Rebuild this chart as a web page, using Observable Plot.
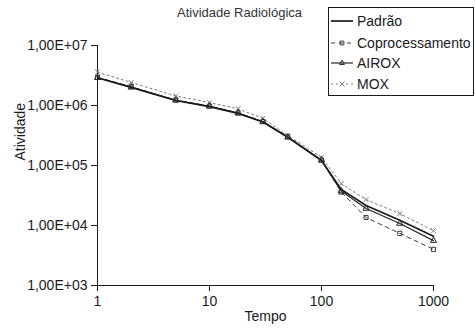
<!DOCTYPE html>
<html><head><meta charset="utf-8">
<script src="https://cdn.jsdelivr.net/npm/d3@7"></script>
<script src="https://cdn.jsdelivr.net/npm/@observablehq/plot@0.6"></script>
<style>
body{margin:0;background:#fff;}
#chart svg{font-family:"Liberation Sans",Arial,Helvetica,sans-serif;background:#fff;}
</style>
</head><body><div id="chart"></div>
<script>
// ---- data ----
const titulo = "Atividade Radiológica";
const tempo = [1, 2, 5, 10, 18, 30, 50, 100, 150, 250, 500, 1000];
const padrao          = [2.9e6, 2.0e6, 1.21e6, 9.6e5, 7.4e5, 5.3e5, 2.95e5, 1.21e5, 4.0e4, 2.15e4, 1.22e4, 6.6e3];
const coprocessamento = [2.95e6, 2.05e6, 1.23e6, 9.8e5, 7.5e5, 5.4e5, 3.0e5, 1.23e5, 3.6e4, 1.36e4, 7.4e3, 4.0e3];
const airox           = [2.9e6, 2.02e6, 1.22e6, 9.7e5, 7.45e5, 5.35e5, 2.97e5, 1.22e5, 3.75e4, 1.92e4, 1.08e4, 5.6e3];
const mox             = [3.6e6, 2.42e6, 1.44e6, 1.12e6, 8.8e5, 6.1e5, 3.16e5, 1.37e5, 5.0e4, 2.7e4, 1.58e4, 8.2e3];
const seriesNames = ["Padrão", "Coprocessamento", "AIROX", "MOX"];
const yTicks = [1e3, 1e4, 1e5, 1e6, 1e7];
const yTickLabels = ["1,00E+03", "1,00E+04", "1,00E+05", "1,00E+06", "1,00E+07"];
const xTicks = [1, 10, 100, 1000];
const xTickLabels = ["1", "10", "100", "1000"];
const xLabel = "Tempo";
const yLabel = "Atividade";

// ---- table ----
const seriesValues = [padrao, coprocessamento, airox, mox];
const table = [];
seriesNames.forEach((name, i) => tempo.forEach((t, j) => table.push({serie: name, tempo: t, valor: seriesValues[i][j]})));

const style = {
  "Padrão":          {stroke: "#1a1a1a", width: 1.7, dash: null,  symbol: null},
  "Coprocessamento": {stroke: "#3a3a3a", width: 1,   dash: "4,4", symbol: "square"},
  "AIROX":           {stroke: "#262626", width: 1.2, dash: null,  symbol: "triangle"},
  "MOX":             {stroke: "#7a7a7a", width: 1,   dash: "2,3", symbol: "times"}
};
const drawOrder = ["MOX", "Coprocessamento", "AIROX", "Padrão"];

const lineMarks = drawOrder.map(name => Plot.line(table.filter(d => d.serie === name), {
  x: "tempo", y: "valor", stroke: style[name].stroke, strokeWidth: style[name].width,
  strokeDasharray: style[name].dash
}));
const dotMarks = drawOrder.filter(n => style[n].symbol).map(name => Plot.dot(table.filter(d => d.serie === name), {
  x: "tempo", y: "valor", symbol: style[name].symbol, r: 2.3, stroke: style[name].stroke,
  strokeWidth: 1, fill: "none"
}));

const chart = Plot.plot({
  width: 475, height: 333,
  marginLeft: 97, marginRight: 42, marginTop: 45, marginBottom: 48,
  style: {fontSize: "14px", color: "#1a1a1a", overflow: "visible"},
  x: {type: "log", domain: [1, 1000]},
  y: {type: "log", domain: [1e3, 1e7]},
  marks: [
    Plot.ruleX([1], {y1: 1e3, y2: 1e7, stroke: "#1a1a1a", strokeWidth: 1}),
    Plot.ruleY([1e3], {x1: 1, x2: 1000, stroke: "#1a1a1a", strokeWidth: 1}),
    Plot.axisY({ticks: yTicks, tickFormat: d => yTickLabels[yTicks.indexOf(d)], tickSize: 6, tickPadding: 4, fontSize: 14, label: null, stroke: "#1a1a1a"}),
    Plot.axisX({ticks: xTicks, tickFormat: d => xTickLabels[xTicks.indexOf(d)], tickSize: 6, tickPadding: 5, fontSize: 14, label: null, stroke: "#1a1a1a"}),
    ...lineMarks,
    ...dotMarks,
    Plot.text([xLabel], {frameAnchor: "bottom", dy: 35, text: d => d, fontSize: 14, fill: "#1a1a1a"}),
    Plot.text([yLabel], {frameAnchor: "left", dx: -77, dy: -5, rotate: -90, text: d => d, fontSize: 14, fill: "#1a1a1a"}),
    Plot.text([titulo], {frameAnchor: "top", dx: -26, dy: -38, text: d => d, fontSize: 13, fill: "#333"})
  ]
});
document.getElementById("chart").appendChild(chart);

// ---- legend ----
const svg = d3.select(chart);
const lg = svg.append("g").attr("text-anchor", "start");
const lx = 328.5, ly = 7.5, lw = 145, lh = 88;
lg.append("rect").attr("x", lx).attr("y", ly).attr("width", lw).attr("height", lh)
  .attr("fill", "#fff").attr("stroke", "#1a1a1a").attr("stroke-width", 1);
const rowY = [21, 43, 63, 84];
seriesNames.forEach((name, i) => {
  const s = style[name];
  const y = rowY[i];
  lg.append("line").attr("x1", 331).attr("x2", 353).attr("y1", y).attr("y2", y)
    .attr("stroke", s.stroke).attr("stroke-width", s.width).attr("stroke-dasharray", s.dash);
  if (s.symbol) {
    const sym = d3.symbol(s.symbol === "square" ? d3.symbolSquare2 : s.symbol === "triangle" ? d3.symbolTriangle2 : d3.symbolTimes, 18);
    lg.append("path").attr("d", sym()).attr("transform", `translate(342,${y})`)
      .attr("fill", "none").attr("stroke", s.stroke).attr("stroke-width", 1);
  }
  lg.append("text").attr("x", 357).attr("y", y).attr("dy", "0.35em").attr("text-anchor", "start")
    .attr("font-size", 14).attr("fill", "#1a1a1a").text(name);
});
</script>
</body></html>
